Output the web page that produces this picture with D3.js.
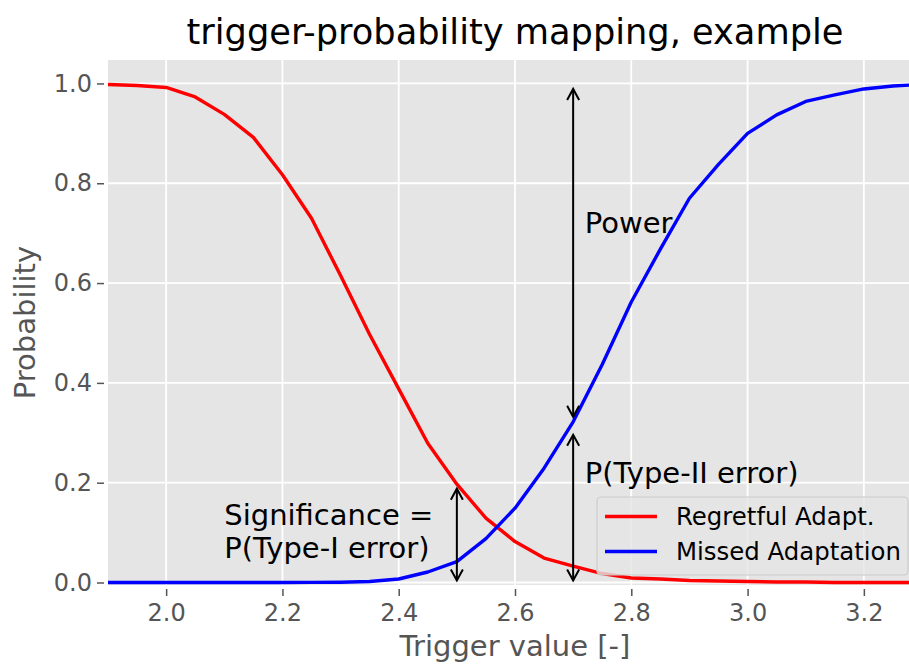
<!DOCTYPE html>
<html><head><meta charset="utf-8">
<script src="https://cdn.jsdelivr.net/npm/d3@7"></script>
<style>body{margin:0;background:#fff}svg{display:block;font-family:"DejaVu Sans",sans-serif}</style>
</head><body><svg id="c" width="909" height="664"></svg>
<script>
const xVals = [1.9,1.95,2.0,2.05,2.1,2.15,2.2,2.25,2.3,2.35,2.4,2.45,2.5,2.55,2.6,2.65,2.7,2.75,2.8,2.85,2.9,2.95,3.0,3.05,3.1,3.15,3.2,3.25,3.3];
const regretful = [0.998,0.996,0.992,0.973,0.938,0.892,0.817,0.730,0.615,0.497,0.388,0.279,0.197,0.129,0.082,0.049,0.033,0.018,0.009,0.007,0.004,0.003,0.002,0.001,0.001,0.0,0.0,0.0,0.0];
const missed = [0,0,0,0,0,0,0,0.0002,0.0005,0.002,0.007,0.021,0.042,0.088,0.149,0.229,0.322,0.437,0.562,0.668,0.770,0.838,0.900,0.937,0.964,0.977,0.989,0.995,0.998];
const xTicks = [2.0,2.2,2.4,2.6,2.8,3.0,3.2];
const yTicks = [0.0,0.2,0.4,0.6,0.8,1.0];
const seriesNames = ["Regretful Adapt.","Missed Adaptation"];
const seriesColors = ["#ff0000","#0000ff"];
// arrows: [x, y0, y1]
const arrowX = [2.5,2.7,2.7];
const arrowY0 = [0.0,0.0,0.328];
const arrowY1 = [0.192,0.30,0.993];
const annoTexts = [["Significance =","P(Type-I error)"],["P(Type-II error)"],["Power"]];
const annoX = [2.1,2.72,2.72];
const annoY = [0.115,0.199,0.70];

const svg = d3.select("#c");
const L=108, R=922, T=60, B=585;
const x = d3.scaleLinear().domain([1.9,3.3]).range([L,R]);
const y = d3.scaleLinear().domain([-0.005,1.047]).range([B,T]);

svg.append("rect").attr("x",L).attr("y",T).attr("width",R-L).attr("height",B-T).attr("fill","#e5e5e5");
const g = svg.append("g");
// grid
g.selectAll(".gx").data(xTicks).join("line").attr("x1",d=>x(d)).attr("x2",d=>x(d)).attr("y1",T).attr("y2",B).attr("stroke","#fff").attr("stroke-width",1.8);
g.selectAll(".gy").data(yTicks).join("line").attr("y1",d=>y(d)).attr("y2",d=>y(d)).attr("x1",L).attr("x2",R).attr("stroke","#fff").attr("stroke-width",1.8);

// axes
const xAxis = d3.axisBottom(x).tickValues(xTicks).tickFormat(d3.format(".1f")).tickSize(7).tickPadding(8);
const yAxis = d3.axisLeft(y).tickValues(yTicks).tickFormat(d3.format(".1f")).tickSize(7).tickPadding(5);
const gx = svg.append("g").attr("transform",`translate(0,${B+4})`).call(xAxis);
const gy = svg.append("g").attr("transform",`translate(${L-4},0)`).call(yAxis);
[gx,gy].forEach(a=>{
  a.select(".domain").remove();
  a.selectAll(".tick line").attr("stroke","#555").attr("stroke-width",1.5);
  a.selectAll(".tick text").attr("fill","#555").style("font-size","24px").style("font-family","DejaVu Sans");
});

// lines
const line = d3.line().x((d,i)=>x(xVals[i])).y(d=>y(d));
[regretful,missed].forEach((s,i)=>{
  svg.append("path").datum(s).attr("d",line).attr("fill","none").attr("stroke",seriesColors[i]).attr("stroke-width",3.4).attr("stroke-linejoin","round");
});

// arrows
arrowX.forEach((ax,i)=>{
  const px = x(ax), p0 = y(arrowY0[i]) - 2, p1 = y(arrowY1[i]) + 2;
  const ag = svg.append("g").attr("stroke","#000").attr("stroke-width",2).attr("fill","none");
  ag.append("line").attr("x1",px).attr("x2",px).attr("y1",p0).attr("y2",p1);
  ag.append("path").attr("d",`M${px-6},${p1+11}L${px},${p1}L${px+6},${p1+11}`);
  ag.append("path").attr("d",`M${px-6},${p0-11}L${px},${p0}L${px+6},${p0-11}`);
});
// annotation texts
annoTexts.forEach((lines,i)=>{
  const t = svg.append("text").attr("x",x(annoX[i])).attr("y",y(annoY[i])).style("font-size","29px").attr("fill","#000");
  lines.forEach((ln,j)=>t.append("tspan").attr("x",x(annoX[i])).attr("dy",j?32.5:0).text(ln));
});

// legend
const lg = svg.append("g");
lg.append("rect").attr("x",597).attr("y",497).attr("width",311).attr("height",78).attr("rx",4)
  .attr("fill","#e5e5e5").attr("fill-opacity",0.8).attr("stroke","#cccccc").attr("stroke-width",1.2);
seriesNames.forEach((n,i)=>{
  const yy = 516.5 + i*35;
  lg.append("line").attr("x1",605).attr("x2",657).attr("y1",yy).attr("y2",yy).attr("stroke",seriesColors[i]).attr("stroke-width",3.4);
  lg.append("text").attr("x",676).attr("y",yy+8).style("font-size","24.4px").attr("fill","#000").text(n);
});

// title and labels
svg.append("text").attr("x",(L+R)/2).attr("y",44).attr("text-anchor","middle").style("font-size","35.2px").attr("fill","#000").text("trigger-probability mapping, example");
svg.append("text").attr("x",(L+R)/2).attr("y",656).attr("text-anchor","middle").style("font-size","29px").attr("fill","#555").text("Trigger value [-]");
svg.append("text").attr("transform",`translate(35,${(T+B)/2}) rotate(-90)`).attr("text-anchor","middle").style("font-size","29px").attr("fill","#555").text("Probability");
</script></body></html>
